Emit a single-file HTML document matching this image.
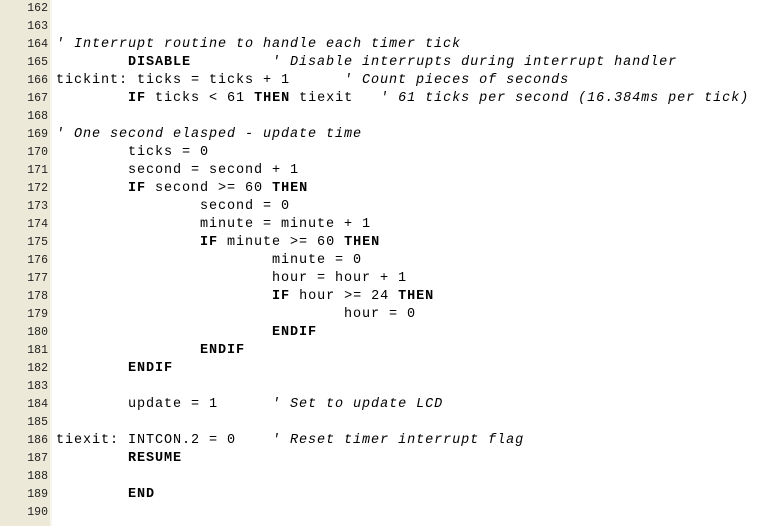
<!DOCTYPE html>
<html><head><meta charset="utf-8"><style>
html,body{margin:0;padding:0;background:#fff;width:770px;height:526px;overflow:hidden}
#g{position:absolute;left:0;top:0;width:50px;height:526px;background:#ECE9D8;border-right:2px solid #F6F5EE}
.n{position:absolute;left:0;width:48px;text-align:right;font:11.5px "Liberation Mono",monospace;color:#222;height:18px;line-height:18px}
.l{position:absolute;left:56px;font:13.5px "Liberation Mono",monospace;letter-spacing:0.9px;color:#000;white-space:pre;height:18px;line-height:18px}
b{font-weight:bold}
i{font-style:italic}
</style></head><body>
<div id="g"></div>
<div class="n" style="top:0">162</div>
<div class="n" style="top:18px">163</div>
<div class="n" style="top:36px">164</div>
<div class="n" style="top:54px">165</div>
<div class="n" style="top:72px">166</div>
<div class="n" style="top:90px">167</div>
<div class="n" style="top:108px">168</div>
<div class="n" style="top:126px">169</div>
<div class="n" style="top:144px">170</div>
<div class="n" style="top:162px">171</div>
<div class="n" style="top:180px">172</div>
<div class="n" style="top:198px">173</div>
<div class="n" style="top:216px">174</div>
<div class="n" style="top:234px">175</div>
<div class="n" style="top:252px">176</div>
<div class="n" style="top:270px">177</div>
<div class="n" style="top:288px">178</div>
<div class="n" style="top:306px">179</div>
<div class="n" style="top:324px">180</div>
<div class="n" style="top:342px">181</div>
<div class="n" style="top:360px">182</div>
<div class="n" style="top:378px">183</div>
<div class="n" style="top:396px">184</div>
<div class="n" style="top:414px">185</div>
<div class="n" style="top:432px">186</div>
<div class="n" style="top:450px">187</div>
<div class="n" style="top:468px">188</div>
<div class="n" style="top:486px">189</div>
<div class="n" style="top:504px">190</div>

<div class="l" style="top:36px"><i>' Interrupt routine to handle each timer tick</i></div>
<div class="l" style="top:54px">        <b>DISABLE</b>         <i>' Disable interrupts during interrupt handler</i></div>
<div class="l" style="top:72px">tickint: ticks = ticks + 1      <i>' Count pieces of seconds</i></div>
<div class="l" style="top:90px">        <b>IF</b> ticks &lt; 61 <b>THEN</b> tiexit   <i>' 61 ticks per second (16.384ms per tick)</i></div>
<div class="l" style="top:126px"><i>' One second elasped - update time</i></div>
<div class="l" style="top:144px">        ticks = 0</div>
<div class="l" style="top:162px">        second = second + 1</div>
<div class="l" style="top:180px">        <b>IF</b> second &gt;= 60 <b>THEN</b></div>
<div class="l" style="top:198px">                second = 0</div>
<div class="l" style="top:216px">                minute = minute + 1</div>
<div class="l" style="top:234px">                <b>IF</b> minute &gt;= 60 <b>THEN</b></div>
<div class="l" style="top:252px">                        minute = 0</div>
<div class="l" style="top:270px">                        hour = hour + 1</div>
<div class="l" style="top:288px">                        <b>IF</b> hour &gt;= 24 <b>THEN</b></div>
<div class="l" style="top:306px">                                hour = 0</div>
<div class="l" style="top:324px">                        <b>ENDIF</b></div>
<div class="l" style="top:342px">                <b>ENDIF</b></div>
<div class="l" style="top:360px">        <b>ENDIF</b></div>
<div class="l" style="top:396px">        update = 1      <i>' Set to update LCD</i></div>
<div class="l" style="top:432px">tiexit: INTCON.2 = 0    <i>' Reset timer interrupt flag</i></div>
<div class="l" style="top:450px">        <b>RESUME</b></div>
<div class="l" style="top:486px">        <b>END</b></div>
</body></html>
